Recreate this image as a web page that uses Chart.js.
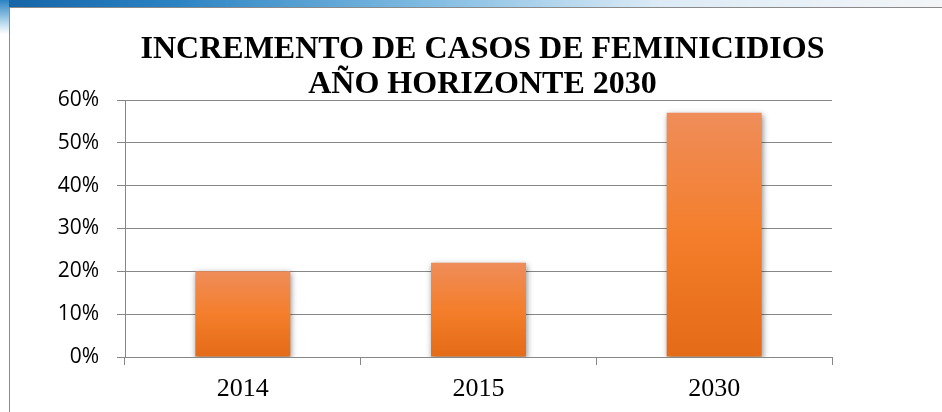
<!DOCTYPE html>
<html lang="es">
<head>
    <meta charset="UTF-8">
    <title>Incremento de casos de feminicidios</title>
    <script src="https://cdn.jsdelivr.net/npm/chart.js"></script>
    <style>
        body {
            margin: 0;
            width: 942px;
            height: 412px;
            background: #ffffff;
            overflow: hidden;
            position: relative;
        }
        #strip {
            position: absolute;
            left: 0; top: 0;
            width: 942px; height: 8px;
            background: linear-gradient(to right, #1463a6 0%, #2a82c2 18%, #7fbbe2 45%, #dcebf6 70%, #f3f5f7 100%);
        }
        #strip-side {
            position: absolute;
            left: 0; top: 0;
            width: 9px; height: 34px;
            background: linear-gradient(to bottom, #2a82c2 0%, #a9d0ea 60%, #ffffff 100%);
        }
        #frame {
            position: absolute;
            left: 9px; top: 7px;
            width: 933px; height: 405px;
            border-left: 1px solid #8a8a8a;
            border-top: 1px solid #8a8a8a;
            background: #ffffff;
        }
        #chart {
            position: absolute;
            left: 10px; top: 8px;
        }
    </style>
</head>
<body>
    <div id="strip"></div>
    <div id="strip-side"></div>
    <div id="frame"></div>
    <canvas id="chart" width="932" height="404"></canvas>

    <script>
        const titleLines = ['INCREMENTO DE CASOS DE FEMINICIDIOS', 'AÑO HORIZONTE 2030'];
        const years = ['2014', '2015', '2030'];
        const increments = [0.20, 0.22, 0.57];

        // titulo centrado sobre el area del grafico
        const titlePlugin = {
            id: 'slideTitle',
            afterDraw(chart) {
                const { ctx, chartArea } = chart;
                const cx = (chartArea.left + chartArea.right) / 2 + 4;
                ctx.save();
                ctx.font = 'bold 32px "Liberation Serif", "Times New Roman", serif';
                ctx.fillStyle = '#000000';
                ctx.textAlign = 'center';
                ctx.textBaseline = 'alphabetic';
                ctx.fillText(titleLines[0], cx, chartArea.top - 42);
                ctx.fillText(titleLines[1], cx, chartArea.top - 7);
                ctx.restore();
            }
        };

        // sombra suave de las barras
        const shadowPlugin = {
            id: 'barShadow',
            beforeDatasetsDraw(chart) {
                const c = chart.ctx;
                c.save();
                c.shadowColor = 'rgba(0, 0, 0, 0.45)';
                c.shadowBlur = 6;
                c.shadowOffsetX = 1;
                c.shadowOffsetY = 2;
            },
            afterDatasetsDraw(chart) {
                chart.ctx.restore();
            }
        };

        function barGradient(context) {
            const chart = context.chart;
            const { ctx, chartArea, scales } = chart;
            if (!chartArea || context.type !== 'data') return '#F47F2A';
            const top = scales.y.getPixelForValue(context.raw);
            const bottom = scales.y.getPixelForValue(0);
            const g = ctx.createLinearGradient(0, top, 0, bottom);
            g.addColorStop(0, '#EF8D5A');
            g.addColorStop(0.5, '#F47E2B');
            g.addColorStop(1, '#E46B17');
            return g;
        }

        const gridColor = '#878787';

        new Chart(document.getElementById('chart'), {
            type: 'bar',
            data: {
                labels: years,
                datasets: [{
                    data: increments,
                    backgroundColor: barGradient,
                    borderWidth: 0,
                    barPercentage: 0.403,
                    categoryPercentage: 1
                }]
            },
            options: {
                responsive: false,
                animation: false,
                devicePixelRatio: 1,
                layout: { padding: { top: 92, right: 110, bottom: 0, left: 0 } },
                plugins: {
                    legend: { display: false },
                    title: { display: false },
                    tooltip: { enabled: false }
                },
                scales: {
                    x: {
                        afterFit(scale) { scale.height = 55; },
                        grid: {
                            offset: true,
                            drawOnChartArea: false,
                            drawTicks: true,
                            tickLength: 8,
                            color: gridColor
                        },
                        border: { display: true, color: gridColor },
                        ticks: {
                            padding: 9,
                            color: '#000000',
                            font: { family: '"Liberation Serif", "Times New Roman", serif', size: 26, lineHeight: 1.2 }
                        }
                    },
                    y: {
                        min: 0,
                        max: 0.6,
                        afterFit(scale) { scale.width = 115; },
                        grid: {
                            color: gridColor,
                            tickLength: 8
                        },
                        border: { display: true, color: gridColor },
                        ticks: {
                            stepSize: 0.1,
                            padding: 18,
                            color: '#000000',
                            font: { family: '"Open Sans", "Liberation Sans", sans-serif', size: 21 },
                            callback: v => Math.round(v * 100) + '%'
                        }
                    }
                }
            },
            plugins: [shadowPlugin, titlePlugin]
        });
    </script>
</body>
</html>
